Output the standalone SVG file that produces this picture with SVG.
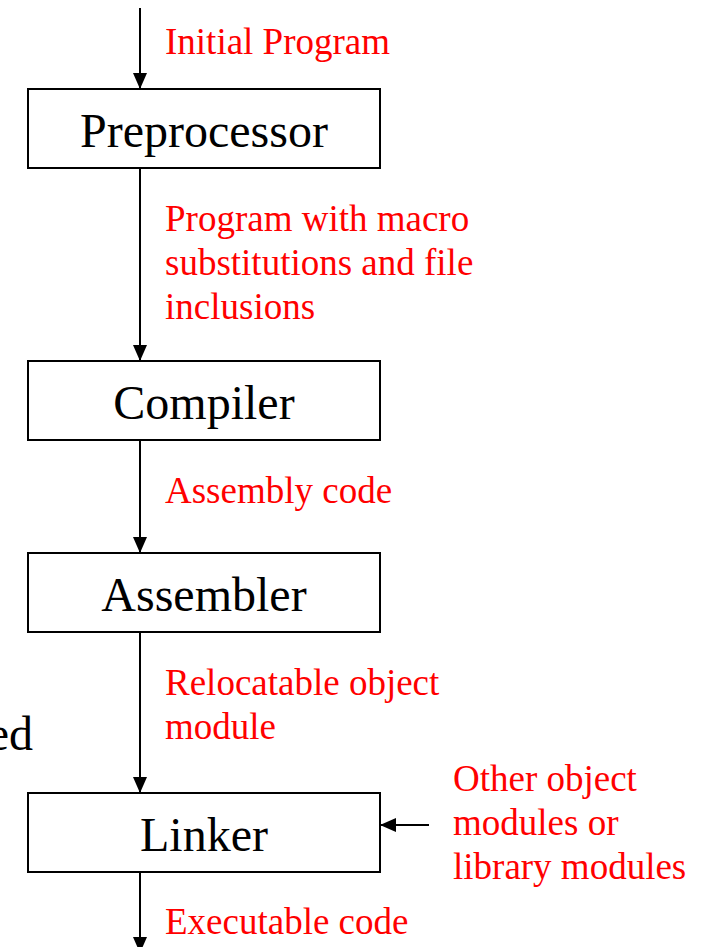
<svg xmlns="http://www.w3.org/2000/svg" width="704" height="947" viewBox="0 0 704 947">
<defs>
<style>
.box{fill:#fff;stroke:#000;stroke-width:2}
.lbl{font-family:"Liberation Serif","Times New Roman",serif;font-size:48px;fill:#000;text-anchor:middle}
.red{font-family:"Liberation Serif","Times New Roman",serif;font-size:37px;fill:#ff0000}
.con{stroke:#000;stroke-width:2;fill:none;marker-end:url(#ah)}
</style>
<marker id="ah" markerUnits="userSpaceOnUse" markerWidth="16" markerHeight="14" refX="16" refY="7" orient="auto" overflow="visible">
<path d="M0,0 L16,7 L0,14 z" fill="#000"/>
</marker>
</defs>
<rect width="704" height="947" fill="#fff"/>
<g id="connectors">
<line class="con" x1="140" y1="8" x2="140" y2="89"/>
<line class="con" x1="140" y1="168" x2="140" y2="361"/>
<line class="con" x1="140" y1="440" x2="140" y2="553"/>
<line class="con" x1="140" y1="632" x2="140" y2="793"/>
<line class="con" x1="140" y1="872" x2="140" y2="953"/>
<line class="con" x1="429" y1="825" x2="380" y2="825"/>
</g>
<g id="preprocessor"><rect class="box" x="28" y="89" width="352" height="79"/><text class="lbl" x="204" y="147">Preprocessor</text></g>
<g id="compiler"><rect class="box" x="28" y="361" width="352" height="79"/><text class="lbl" x="204" y="419">Compiler</text></g>
<g id="assembler"><rect class="box" x="28" y="553" width="352" height="79"/><text class="lbl" x="204" y="611">Assembler</text></g>
<g id="linker"><rect class="box" x="28" y="793" width="352" height="79"/><text class="lbl" x="204" y="851">Linker</text></g>
<g id="labels">
<text class="red" x="165" y="54">Initial Program</text>
<text class="red" x="165" y="231">Program with macro</text>
<text class="red" x="165" y="275">substitutions and file</text>
<text class="red" x="165" y="319">inclusions</text>
<text class="red" x="165" y="503">Assembly code</text>
<text class="red" x="165" y="695">Relocatable object</text>
<text class="red" x="165" y="739">module</text>
<text class="red" x="453" y="791">Other object</text>
<text class="red" x="453" y="835">modules or</text>
<text class="red" x="453" y="879">library modules</text>
<text class="red" x="165" y="934">Executable code</text>
<text x="33" y="750" font-family="'Liberation Serif','Times New Roman',serif" font-size="48" fill="#000" text-anchor="end">ed</text>
</g>
</svg>
